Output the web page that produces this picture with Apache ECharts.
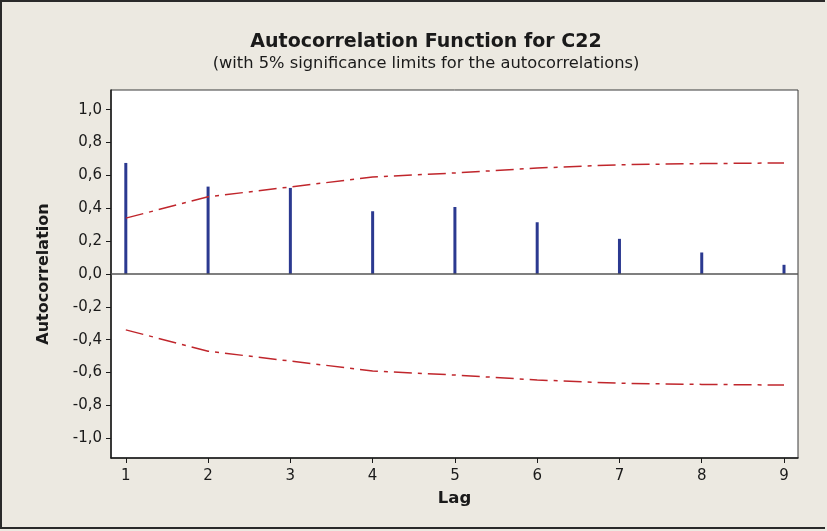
<!DOCTYPE html>
<html>
<head>
<meta charset="utf-8">
<script src="https://cdn.jsdelivr.net/npm/echarts@6/dist/echarts.min.js"></script>
<style>
  html, body { margin: 0; padding: 0; background: #ece9e1; }
  #main { width: 823px; height: 525px; border: 2px solid #2a2a2a; border-right: none; background: #ece9e1; }
</style>
</head>
<body>
<div id="main"></div>
<script>
// lag numbers and autocorrelations
const lags = [1, 2, 3, 4, 5, 6, 7, 8, 9];
const acf = [0.676, 0.532, 0.524, 0.382, 0.408, 0.315, 0.214, 0.131, 0.056];
// 5% significance limits (upper, lower is the mirror)
const upperLimit = [0.34, 0.47, 0.53, 0.59, 0.615, 0.645, 0.665, 0.672, 0.676];
const lowerLimit = [-0.34, -0.47, -0.53, -0.59, -0.615, -0.645, -0.665, -0.672, -0.676];
const yTicks = [-1, -0.8, -0.6, -0.4, -0.2, 0, 0.2, 0.4, 0.6, 0.8, 1];

const chartDom = document.getElementById('main');
const myChart = echarts.init(chartDom);

const fmt = function (v) {
  return v.toFixed(1).replace('.', ',');
};

const option = {
  backgroundColor: '#ece9e1',
  animation: false,
  textStyle: { fontFamily: 'DejaVu Sans' },
  title: {
    text: 'Autocorrelation Function for C22',
    subtext: '(with 5% significance limits for the autocorrelations)',
    left: 419,
    top: 26,
    textAlign: 'center',
    itemGap: 4,
    textStyle: { fontSize: 19, fontWeight: 'bold', color: '#1a1a1a', fontFamily: 'DejaVu Sans' },
    subtextStyle: { fontSize: 16.3, color: '#1a1a1a', fontFamily: 'DejaVu Sans' }
  },
  grid: {
    left: 109, top: 88, width: 687, height: 368,
    show: true, backgroundColor: '#ffffff', borderColor: '#3a3a3a', borderWidth: 1
  },
  xAxis: {
    type: 'value',
    min: 0.82,
    max: 9.17,
    name: 'Lag',
    nameLocation: 'middle',
    nameGap: 32,
    nameTextStyle: { fontSize: 16.5, fontWeight: 'bold', color: '#1a1a1a' },
    axisLine: { show: true, onZero: false, lineStyle: { color: '#1a1a1a', width: 1.5 } },
    axisTick: { show: true, length: 5, customValues: lags, lineStyle: { color: '#1a1a1a' } },
    axisLabel: { customValues: lags, fontSize: 15, color: '#1a1a1a', margin: 11 },
    splitLine: { show: false }
  },
  yAxis: {
    type: 'value',
    min: -1.12,
    max: 1.12,
    name: 'Autocorrelation',
    nameLocation: 'middle',
    nameGap: 59,
    nameTextStyle: { fontSize: 16, fontWeight: 'bold', color: '#1a1a1a' },
    axisLine: { show: true, onZero: false, lineStyle: { color: '#1a1a1a', width: 1.5 } },
    axisTick: { show: true, length: 5, customValues: yTicks, lineStyle: { color: '#1a1a1a' } },
    axisLabel: { customValues: yTicks, fontSize: 15, color: '#1a1a1a', margin: 9, formatter: fmt },
    splitLine: { show: false }
  },
  series: [
    {
      type: 'bar',
      data: lags.map((l, i) => [l, acf[i]]),
      barWidth: 3,
      itemStyle: { color: '#2b3990' },
      markLine: {
        silent: true,
        symbol: 'none',
        label: { show: false },
        lineStyle: { color: '#555555', width: 1.5, type: 'solid' },
        data: [{ yAxis: 0 }]
      }
    },
    {
      type: 'line',
      data: lags.map((l, i) => [l, upperLimit[i]]),
      symbol: 'none',
      lineStyle: { color: '#c0262c', width: 1.5, type: [18, 6, 4, 6] }
    },
    {
      type: 'line',
      data: lags.map((l, i) => [l, lowerLimit[i]]),
      symbol: 'none',
      lineStyle: { color: '#c0262c', width: 1.5, type: [18, 6, 4, 6] }
    }
  ]
};

myChart.setOption(option);
</script>
</body>
</html>
